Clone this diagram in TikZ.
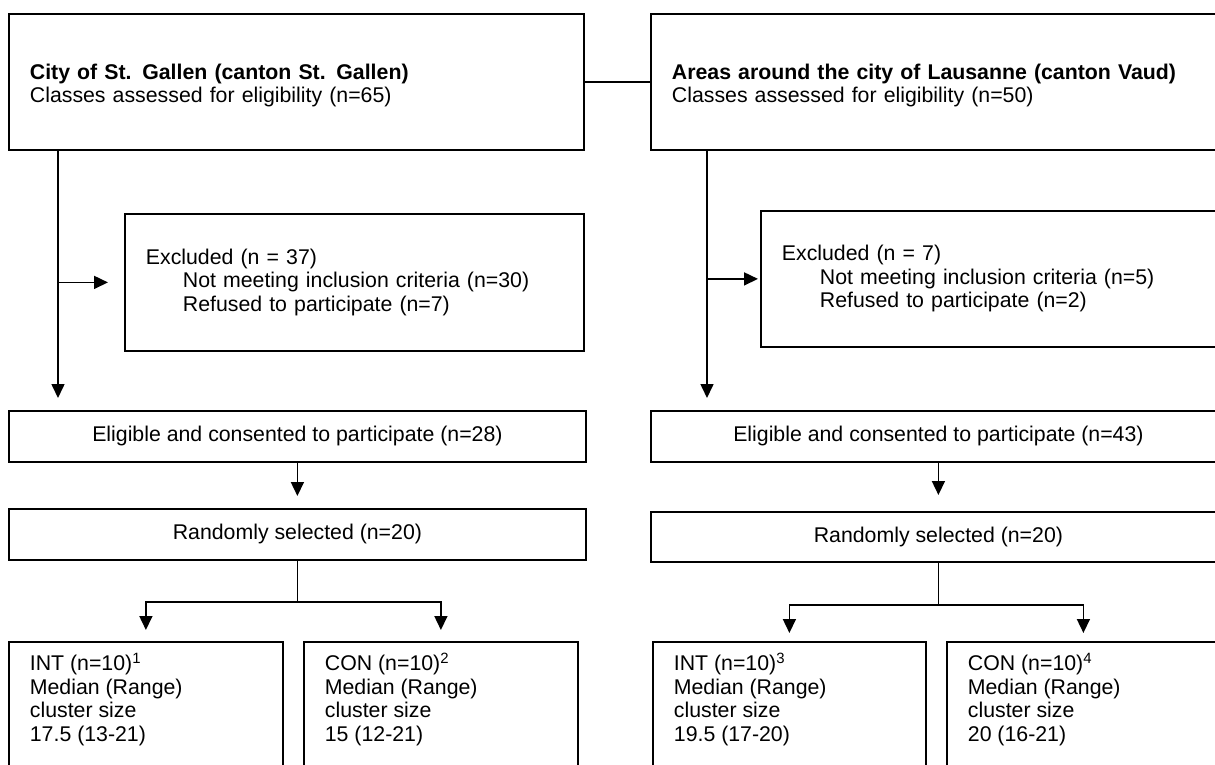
\documentclass[tikz,border=0pt]{standalone}
\usepackage{fontspec}
\setmainfont{Liberation Sans}
\usetikzlibrary{positioning, arrows.meta}

\tikzset{
  box/.style={draw, line width=1.8pt, rectangle, anchor=north west, inner sep=0pt,
    font=\fontsize{21.3}{23.5}\selectfont},
  headbox/.style={box, minimum height=136pt, inner xsep=21pt, text width=533pt, align=left},
  exclbox/.style={box, minimum height=137pt, inner xsep=21pt, text width=417pt, align=left},
  stepbox/.style={box, minimum height=51pt, align=center},
  armbox/.style={box, inner xsep=21pt, inner ysep=11pt},
  arr/.style={-{Triangle[length=14pt,width=13pt]}, line width=1.6pt},
  link/.style={line width=1.6pt}
}

\begin{document}
\begin{tikzpicture}[x=1pt, y=-1pt]
    \useasboundingbox (0,0) rectangle (1215,765);
    \clip (0,0) rectangle (1215,765);

    % cantons
    \node[headbox] (stg) at (8,13) {\rule{0pt}{23pt}\textbf{City of St. Gallen (canton St. Gallen)}\\Classes assessed for eligibility (n=65)};
    \node[headbox] (lau) at (650,13) {\rule{0pt}{23pt}\textbf{Areas around the city of Lausanne (canton Vaud)}\\Classes assessed for eligibility (n=50)};
    \draw[link] (stg) -- (lau);

    % excluded classes
    \node[exclbox] (exA) at (124,213) {Excluded (n = 37)\\\hspace*{37pt}Not meeting inclusion criteria (n=30)\\\hspace*{37pt}Refused to participate (n=7)};
    \node[exclbox, minimum height=136pt] (exB) at (760,210) {Excluded (n = 7)\\\hspace*{38pt}Not meeting inclusion criteria (n=5)\\\hspace*{38pt}Refused to participate (n=2)};

    % eligible and randomised
    \node[stepbox, minimum width=577pt] (eligA) at (8,410) {Eligible and consented to participate (n=28)};
    \node[stepbox, minimum width=575pt] (eligB) at (650,410) {Eligible and consented to participate (n=43)};
    \node[stepbox, minimum width=577pt] (randA) at (8,508) {Randomly selected (n=20)};
    \node[stepbox, minimum width=575pt, minimum height=50pt] (randB) at (650,511) {Randomly selected (n=20)};

    % arms
    \node[armbox] (intA) at (8,641) {\parbox[t][130pt][t]{232pt}{INT (n=10)\textsuperscript{1}\\Median (Range)\\cluster size\\17.5 (13-21)}};
    \node[armbox] (conA) at (303,641) {\parbox[t][130pt][t]{232pt}{CON (n=10)\textsuperscript{2}\\Median (Range)\\cluster size\\15 (12-21)}};
    \node[armbox] (intB) at (652,641) {\parbox[t][130pt][t]{231pt}{INT (n=10)\textsuperscript{3}\\Median (Range)\\cluster size\\19.5 (17-20)}};
    \node[armbox] (conB) at (946,641) {\parbox[t][130pt][t]{231pt}{CON (n=10)\textsuperscript{4}\\Median (Range)\\cluster size\\20 (16-21)}};

    % flow lines
    \coordinate (trunkA) at (58,0);
    \coordinate (trunkB) at (707,0);
    \draw[arr, shorten >=12pt] (stg.south -| trunkA) -- (eligA.north -| trunkA);
    \draw[arr, shorten >=16pt] (trunkA |- exA.west) -- (exA.west);
    \draw[arr, shorten >=12pt] (lau.south -| trunkB) -- (eligB.north -| trunkB);
    \draw[arr, shorten >=2pt] (trunkB |- exB.west) -- (exB.west);

    \draw[arr, shorten >=12pt] (eligA) -- (randA);
    \draw[arr, shorten >=16pt] (eligB) -- (randB);

    \draw[link] (randA.south) -- ++(0,41) coordinate (forkA);
    \draw[arr, shorten >=11pt] (forkA) -| (intA);
    \draw[arr, shorten >=11pt] (forkA) -| (conA);
    \draw[link] (randB.south) -- ++(0,42) coordinate (forkB);
    \draw[arr, shorten >=8pt] (forkB) -| (intB);
    \draw[arr, shorten >=8pt] (forkB) -| (conB);
\end{tikzpicture}
\end{document}
